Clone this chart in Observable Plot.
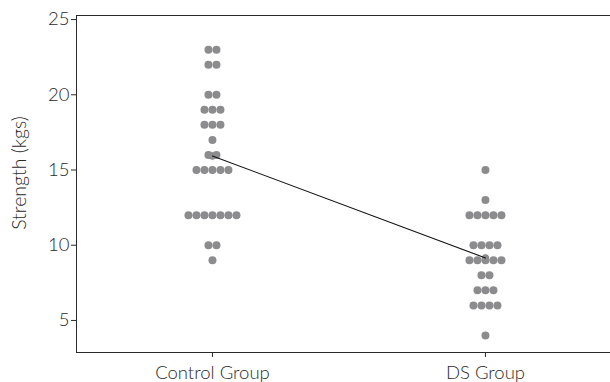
<!DOCTYPE html>
<html>
<head>
<meta charset="utf-8">
<script src="https://cdn.jsdelivr.net/npm/d3@7"></script>
<script src="https://cdn.jsdelivr.net/npm/@observablehq/plot@0.6"></script>
<style>
  html, body { margin: 0; padding: 0; background: #fff; overflow: hidden; }
  #chart svg { display: block; }
</style>
</head>
<body>
<div id="chart"></div>
<script>
// Group names, in axis order
const groups = ["Control Group", "DS Group"];

// Grip strength per participant (kg)
const controlStrength = [
  23, 23, 22, 22, 20, 20, 19, 19, 19, 18, 18, 18, 17, 16, 16,
  15, 15, 15, 15, 15, 12, 12, 12, 12, 12, 12, 12, 10, 10, 9
];
const dsStrength = [
  15, 13, 12, 12, 12, 12, 12, 10, 10, 10, 10, 9, 9, 9, 9, 9,
  8, 8, 7, 7, 7, 6, 6, 6, 6, 4
];

const yTicks = [5, 10, 15, 20, 25];
const yLabel = "Strength (kgs)";
const yDomain = [2.87, 25.27];
const xDomain = [-0.498, 1.458];

const width = 610, height = 382;
const marginLeft = 76, marginRight = 0, marginTop = 15, marginBottom = 30;
const dotSpacing = 8;   // px between neighbouring dots in a row
const unitPx = (width - marginLeft - marginRight) / (xDomain[1] - xDomain[0]);

// Lay out equal values side by side, centred on the group position
function rows(values, gi) {
  const byValue = d3.group(values, v => v);
  const out = [];
  for (const [v, list] of byValue) {
    const n = list.length;
    list.forEach((_, i) => {
      out.push({group: gi, value: v, x: gi + (i - (n - 1) / 2) * dotSpacing / unitPx});
    });
  }
  return out;
}
const dots = [...rows(controlStrength, 0), ...rows(dsStrength, 1)];
const means = [controlStrength, dsStrength].map((vals, gi) => ({x: gi, value: d3.mean(vals)}));

const font = "Lato, 'Open Sans', sans-serif";

const chart = Plot.plot({
  width, height, marginLeft, marginRight, marginTop, marginBottom,
  style: {fontFamily: font, fontSize: "18.5px", fontWeight: 300, color: "#2a2a2a", background: "#fff", overflow: "visible"},
  x: {domain: xDomain, ticks: [0, 1], tickFormat: i => groups[i], tickSize: 5, tickPadding: 8, line: true, label: null},
  y: {domain: yDomain, ticks: yTicks, tickSize: 5, tickPadding: 2, line: true, label: null},
  marks: [
    Plot.ruleY([yDomain[1]], {stroke: "#2a2a2a", strokeWidth: 1.2}),
    Plot.text([yLabel], {frameAnchor: "left", textAnchor: "middle", rotate: -90, dx: -57, dy: -11, fontSize: 19.5, fill: "#2a2a2a"}),
    Plot.dot(means, {x: "x", y: "value", r: 4.3, fill: "#8c8c8e", stroke: "#fff", strokeWidth: 1}),
    Plot.dot(dots, {x: "x", y: "value", r: 4, fill: "#8c8c8e", stroke: "none"}),
    Plot.line(means, {x: "x", y: "value", stroke: "#111", strokeWidth: 1.1})
  ]
});
document.getElementById("chart").append(chart);
</script>
</body>
</html>
